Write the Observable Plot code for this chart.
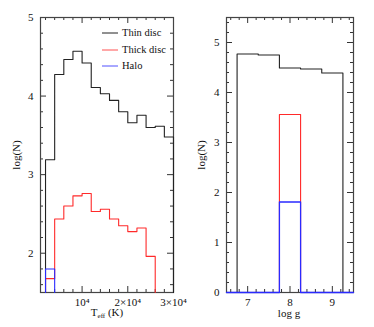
<!DOCTYPE html>
<html><head><meta charset="utf-8">
<script src="https://cdn.jsdelivr.net/npm/d3@7"></script>
<script src="https://cdn.jsdelivr.net/npm/@observablehq/plot@0.6"></script>
<style>
body{margin:0;background:#fff;}
#wrap{position:relative;width:374px;height:327px;font-family:"Liberation Serif",serif;color:#111;overflow:hidden;}
.panel{position:absolute;top:0;}
.lbl{position:absolute;font-size:11px;white-space:nowrap;}
.rot{transform:translate(-50%,-50%) rotate(-90deg);}
.hz{transform:translate(-50%,-50%);}
.leg{position:absolute;left:102px;font-size:10.5px;display:flex;align-items:center;white-space:nowrap;}
.leg svg{margin-right:4px;}
sub{font-size:7px;vertical-align:-2px;}
</style></head><body>
<div id="wrap">
  <div class="panel" id="p1" style="left:0"></div>
  <div class="panel" id="p2" style="left:187px"></div>
  <div class="lbl rot" style="left:16px;top:155px">log(N)</div>
  <div class="lbl rot" style="left:201px;top:155px">log(N)</div>
  <div class="lbl hz" style="left:107px;top:313px">T<sub>eff</sub> (K)</div>
  <div class="lbl hz" style="left:289px;top:313px">log g</div>
  <div id="legend"></div>
</div>
<script>
// ---- Left panel: Teff histograms (log N) ----
const teffBinStarts = [2000,4000,6000,8000,10000,12000,14000,16000,18000,20000,22000,24000,26000,28000];
const teffBinWidth = 2000;
const thinTeff  = [3.19,4.275,4.465,4.57,4.42,4.11,4.03,3.945,3.80,3.66,3.755,3.60,3.615,3.48];
const thickTeff = [1.676,2.435,2.60,2.73,2.76,2.53,2.56,2.435,2.35,2.275,2.32,1.96];
const haloTeff  = [1.80];
const teffMajorTicks = [10000,20000,30000];
const teffMinorTicks = [2000,4000,6000,8000,12000,14000,16000,18000,22000,24000,26000,28000];
const logNMajorLeft = [2,3,4,5];

// ---- Right panel: log g histograms (log N) ----
const loggBinStarts = [6.25,6.75,7.25,7.75,8.25,8.75,9.25];
const loggBinWidth = 0.5;
const thinLogg  = [0,4.77,4.75,4.49,4.47,4.39,0];
const thickLogg = [0,0,0,3.56,0,0,0];
const haloLogg  = [0,0,0,1.81,0,0,0];
const loggMajorTicks = [7,8,9];
const logNMajorRight = [0,1,2,3,4,5];

const seriesNames = ["Thin disc","Thick disc","Halo"];
const colors = {thin:"#222", thick:"#ff2a2a", halo:"#2a2aff"};
const legendColors = [colors.thin, "#ff5050", "#5050ff"];

// legend
{
  const lg = document.getElementById("legend");
  const tops = [27,44,60];
  seriesNames.forEach((name,i)=>{
    const d = document.createElement("div");
    d.className="leg"; d.style.top=tops[i]+"px";
    d.innerHTML = `<svg width="16" height="4"><line x1="0" x2="16" y1="2" y2="2" stroke="${legendColors[i]}" stroke-width="1"/></svg>`;
    d.appendChild(document.createTextNode(name));
    lg.appendChild(d);
  });
}

function steps(starts, width, vals, base, xd, yd){
  const n = vals.length;
  const cx = v=>Math.max(xd[0],Math.min(xd[1],v));
  const cy = v=>Math.max(yd[0],Math.min(yd[1],v));
  const pts = [{x:starts[0], y:base}];
  vals.forEach((v,i)=>pts.push({x:starts[i], y:v}));
  pts.push({x:starts[n-1]+width, y:vals[n-1]});
  pts.push({x:starts[n-1]+width, y:base});
  return pts.map(p=>({x:cx(p.x), y:cy(p.y)}));
}
function minorRange(a,b,step,skip){
  const out=[]; for(let i=Math.round(a/step);i*step<=b+1e-9;i++){const v=+(i*step).toFixed(6); if(!skip.some(s=>Math.abs(s-v)<1e-6)) out.push(v);} return out;
}
function frameTicks(xMaj,xMin,yMaj,yMin,fw,fh){
  const m=[];
  const L=6, S=3;
  m.push(Plot.tickX(xMaj,{x:d=>d, insetTop:fh-L, stroke:"#333"}));
  m.push(Plot.tickX(xMaj,{x:d=>d, insetBottom:fh-L, stroke:"#333"}));
  m.push(Plot.tickX(xMin,{x:d=>d, insetTop:fh-S, stroke:"#333"}));
  m.push(Plot.tickX(xMin,{x:d=>d, insetBottom:fh-S, stroke:"#333"}));
  m.push(Plot.tickY(yMaj,{y:d=>d, insetRight:fw-L, stroke:"#333"}));
  m.push(Plot.tickY(yMaj,{y:d=>d, insetLeft:fw-L, stroke:"#333"}));
  m.push(Plot.tickY(yMin,{y:d=>d, insetRight:fw-S, stroke:"#333"}));
  m.push(Plot.tickY(yMin,{y:d=>d, insetLeft:fw-S, stroke:"#333"}));
  return m;
}

const H = 327, mT = 17, mB = 35;
const fh = H - mT - mB;

// Left
{
  const W=187, mL=40, mR=14, fw=W-mL-mR;
  const xd=[900,30000], yd=[1.5,5];
  const yMin = minorRange(1.6,5,0.2,logNMajorLeft);
  const p = Plot.plot({
    width:W, height:H, marginLeft:mL, marginRight:mR, marginTop:mT, marginBottom:mB,
    style:{fontFamily:"Liberation Serif, serif", fontSize:"11px", background:"transparent", color:"#111"},
    x:{domain:xd},
    y:{domain:yd},
    marks:[
      ...frameTicks(teffMajorTicks,teffMinorTicks,logNMajorLeft,yMin,fw,fh),
      Plot.frame({stroke:"#444", strokeWidth:1.2}),
      Plot.line(steps(teffBinStarts,teffBinWidth,thinTeff,0,xd,yd),{x:"x",y:"y",curve:"step-after",stroke:colors.thin,strokeWidth:1.1}),
      Plot.line(steps(teffBinStarts,teffBinWidth,thickTeff,0,xd,yd),{x:"x",y:"y",curve:"step-after",stroke:colors.thick,strokeWidth:1.1}),
      Plot.line(steps(teffBinStarts,teffBinWidth,haloTeff,0,xd,yd),{x:"x",y:"y",curve:"step-after",stroke:colors.halo,strokeWidth:1.1}),
      Plot.axisX(teffMajorTicks,{tickSize:0, tickPadding:6, label:null, tickFormat:d=>d===10000?"10⁴":(d/10000)+"×10⁴"}),
      Plot.axisY(logNMajorLeft,{tickSize:0, tickPadding:7, label:null, tickFormat:d=>String(d)})
    ]
  });
  document.getElementById("p1").appendChild(p);
}
// Right
{
  const W=187, mL=39, mR=21, fw=W-mL-mR;
  const xd=[6.5,9.5], yd=[0,5.5];
  const yMin = minorRange(0.2,5.4,0.2,logNMajorRight);
  const xMin = minorRange(6.6,9.4,0.2,loggMajorTicks);
  const p = Plot.plot({
    width:W, height:H, marginLeft:mL, marginRight:mR, marginTop:mT, marginBottom:mB,
    style:{fontFamily:"Liberation Serif, serif", fontSize:"11px", background:"transparent", color:"#111"},
    x:{domain:xd},
    y:{domain:yd},
    marks:[
      ...frameTicks(loggMajorTicks,xMin,logNMajorRight,yMin,fw,fh),
      Plot.frame({stroke:"#444", strokeWidth:1.2}),
      Plot.line(steps(loggBinStarts,loggBinWidth,thinLogg,0,xd,yd),{x:"x",y:"y",curve:"step-after",stroke:colors.thin,strokeWidth:1.1}),
      Plot.line(steps(loggBinStarts,loggBinWidth,thickLogg,0,xd,yd),{x:"x",y:"y",curve:"step-after",stroke:colors.thick,strokeWidth:1.1}),
      Plot.line(steps(loggBinStarts,loggBinWidth,haloLogg,0,xd,yd),{x:"x",y:"y",curve:"step-after",stroke:colors.halo,strokeWidth:1.3}),
      Plot.axisX(loggMajorTicks,{tickSize:0, tickPadding:6, label:null, tickFormat:d=>String(d)}),
      Plot.axisY(logNMajorRight,{tickSize:0, tickPadding:7, label:null, tickFormat:d=>String(d)})
    ]
  });
  document.getElementById("p2").appendChild(p);
}
</script>
</body></html>
